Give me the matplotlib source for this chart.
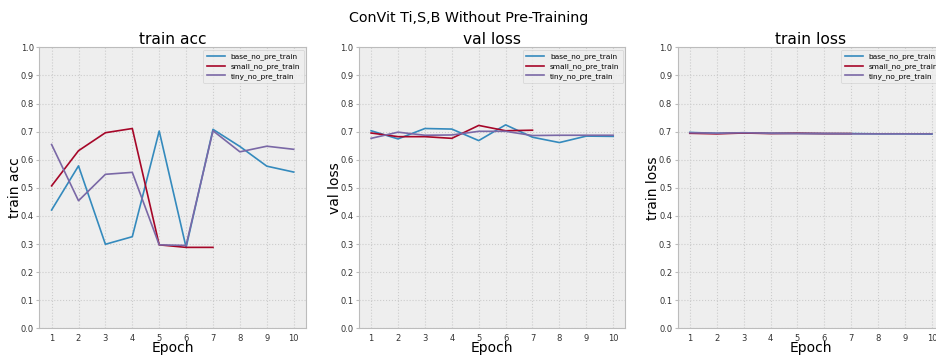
import matplotlib
matplotlib.use("Agg")
import matplotlib.pyplot as plt

epochs = [1, 2, 3, 4, 5, 6, 7, 8, 9, 10]
epochs_small = [1, 2, 3, 4, 5, 6, 7]

train_acc_base = [0.421, 0.578, 0.299, 0.326, 0.702, 0.288, 0.708, 0.647, 0.577, 0.556]
train_acc_small = [0.507, 0.632, 0.696, 0.711, 0.297, 0.288, 0.288]
train_acc_tiny = [0.654, 0.454, 0.548, 0.555, 0.297, 0.295, 0.703, 0.628, 0.648, 0.637]

val_loss_base = [0.703, 0.674, 0.711, 0.709, 0.668, 0.724, 0.680, 0.661, 0.684, 0.683]
val_loss_small = [0.695, 0.682, 0.682, 0.676, 0.722, 0.703, 0.705]
val_loss_tiny = [0.676, 0.698, 0.687, 0.688, 0.701, 0.701, 0.686, 0.687, 0.687, 0.687]

train_loss_base = [0.697, 0.694, 0.695, 0.694, 0.694, 0.693, 0.693, 0.692, 0.692, 0.691]
train_loss_small = [0.694, 0.692, 0.695, 0.693, 0.694, 0.693, 0.693]
train_loss_tiny = [0.696, 0.694, 0.696, 0.694, 0.693, 0.693, 0.692, 0.692, 0.692, 0.692]

names = ['base_no_pre_train', 'small_no_pre_train', 'tiny_no_pre_train']

plt.style.use('bmh')
fig = plt.figure(figsize=(9.37, 3.58), dpi=100)
fig.patch.set_facecolor('white')

W, H = 937.0, 358.0
lefts = [39.5, 359.0, 677.7]
width = 266.3
bottom, top = 328.3, 47.3

panels = [
    ('train acc', train_acc_base, train_acc_small, train_acc_tiny),
    ('val loss', val_loss_base, val_loss_small, val_loss_tiny),
    ('train loss', train_loss_base, train_loss_small, train_loss_tiny),
]

for left, (name, base, small, tiny) in zip(lefts, panels):
    ax = fig.add_axes([left / W, 1 - bottom / H, width / W, (bottom - top) / H])
    ax.plot(epochs, base, label=names[0], lw=1.2)
    ax.plot(epochs_small, small, label=names[1], lw=1.2)
    ax.plot(epochs, tiny, label=names[2], lw=1.2)
    ax.set_ylim(0, 1.0)
    ax.set_yticks([i / 10 for i in range(11)])
    ax.set_xticks(epochs)
    ax.tick_params(axis='x', labelsize=6, length=0, pad=4, labelcolor='#333333')
    ax.tick_params(axis='y', labelsize=6, length=2, direction='out', pad=2,
                   color='#bcbcbc', labelcolor='#333333')
    ax.grid(True, linestyle=':', color='#cccccc', linewidth=0.8)
    ax.set_title(name, fontsize=11.2, pad=2)
    ax.set_xlabel('Epoch', fontsize=10, labelpad=-1)
    ax.set_ylabel(name, fontsize=10, labelpad=-1)
    ax.legend(loc='upper right', fontsize=5.3, handlelength=2.4, borderpad=0.5,
              labelspacing=0.4, borderaxespad=0.3)

fig.suptitle('ConVit Ti,S,B Without Pre-Training', fontsize=10.3, y=0.97)

fig.savefig('out.png', dpi=100, facecolor='white')
